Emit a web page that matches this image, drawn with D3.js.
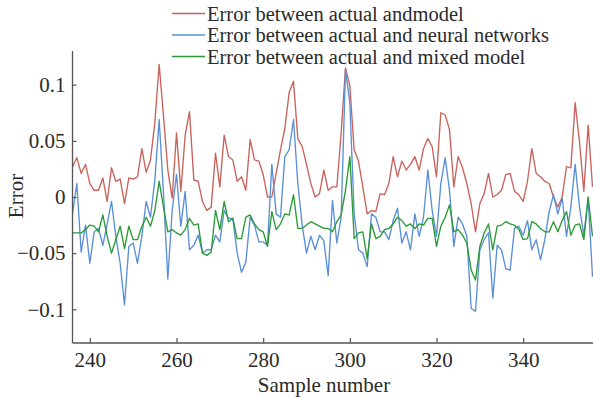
<!DOCTYPE html>
<html>
<head>
<meta charset="utf-8">
<script src="https://cdn.jsdelivr.net/npm/d3@7"></script>
<style>
  html, body { margin: 0; padding: 0; background: #fff; }
  svg { display: block; }
  text { font-family: "Liberation Serif", "Times New Roman", serif; fill: #2a2a2a; }
</style>
</head>
<body>
<svg id="chart" width="593" height="398"></svg>
<script>
// ---- Data ----
const startSample = 236;
const xTicks = [240, 260, 280, 300, 320, 340];
const yTicks = [-0.1, -0.05, 0, 0.05, 0.1];
const yTickLabels = ["\u22120.1", "\u22120.05", "0", "0.05", "0.1"];
const seriesNames = [
  "Error between actual andmodel",
  "Error between actual and neural networks",
  "Error between actual and mixed model"
];
const seriesColors = ["#c9625c", "#5a8fd8", "#2a9a36"];

// samples 236..356
const errModel = [
  0.027, 0.035, 0.021, 0.029, 0.012, 0.006, 0.006, 0.017, -0.004, 0.026,
  0.014, 0.016, -0.006, 0.017, 0.016, 0.018, 0.043, 0.022, 0.033, 0.066,
  0.118, 0.072, 0.024, -0.001, 0.057, 0.005, 0.055, 0.076, 0.015, 0.014,
  -0.004, -0.012, -0.009, 0.039, 0.009, 0.055, 0.036, 0.033, 0.014, 0.018,
  0.006, 0.051, 0.033, 0.032, 0.020, 0.000, 0.000, 0.021, 0.042, 0.061,
  0.093, 0.103, 0.052, 0.045, 0.029, 0.012, 0.000, 0.003, 0.024, 0.006,
  0.009, 0.009, 0.057, 0.115, 0.099, 0.042, 0.032, 0.009, -0.015, -0.012,
  -0.013, 0.003, 0.002, 0.012, 0.036, 0.018, 0.032, 0.024, 0.029, 0.036,
  0.024, 0.043, 0.052, 0.045, 0.018, 0.075, 0.073, 0.060, 0.009, 0.036,
  0.026, 0.012, -0.006, -0.031, -0.006, 0.003, 0.021, 0.000, 0.002, 0.006,
  0.020, 0.021, 0.005, 0.002, -0.004, 0.014, 0.043, 0.021, 0.018, 0.014,
  0.012, 0.000, -0.009, 0.000, 0.027, 0.026, 0.084, 0.049, 0.005, 0.064,
  0.009
];
const errNeural = [
  -0.015, 0.012, -0.049, -0.025, -0.059, -0.031, -0.028, -0.043, -0.024, -0.004,
  -0.035, -0.059, -0.096, -0.044, -0.041, -0.059, -0.035, -0.004, -0.018, 0.015,
  0.069, 0.003, -0.073, -0.012, 0.020, -0.026, 0.005, -0.047, -0.043, -0.034,
  -0.050, -0.047, -0.047, -0.034, -0.040, -0.012, -0.019, -0.019, -0.050, -0.067,
  -0.058, -0.018, -0.025, -0.040, -0.040, -0.043, 0.029, -0.015, -0.018, 0.036,
  0.042, 0.069, 0.012, -0.025, -0.050, -0.035, -0.047, -0.034, -0.039, -0.070,
  -0.003, -0.041, -0.018, 0.113, 0.084, -0.015, -0.047, -0.050, -0.062, -0.015,
  -0.018, -0.031, -0.031, -0.038, -0.021, -0.010, -0.041, -0.031, -0.047, -0.015,
  -0.035, -0.018, 0.024, -0.012, -0.035, 0.012, 0.035, 0.006, -0.044, -0.018,
  -0.024, -0.035, -0.099, -0.102, -0.047, -0.038, -0.032, -0.090, -0.043, -0.047,
  -0.064, -0.065, -0.028, -0.026, -0.034, -0.021, -0.047, -0.038, -0.056, -0.038,
  -0.013, 0.002, -0.015, -0.001, -0.035, -0.009, 0.029, -0.009, -0.034, -0.001,
  -0.071
];
const errMixed = [
  -0.032, -0.032, -0.032, -0.029, -0.025, -0.026, -0.031, -0.016, -0.035, -0.050,
  -0.038, -0.026, -0.046, -0.026, -0.038, -0.038, -0.026, -0.018, -0.026, -0.012,
  0.014, -0.009, -0.031, -0.029, -0.032, -0.034, -0.029, -0.019, -0.025, -0.024,
  -0.050, -0.052, -0.049, -0.012, -0.029, -0.004, -0.022, -0.019, -0.037, -0.037,
  -0.018, -0.016, -0.024, -0.029, -0.031, -0.044, -0.013, -0.029, -0.024, -0.015,
  -0.016, 0.002, -0.028, -0.028, -0.025, -0.022, -0.024, -0.026, -0.028, -0.028,
  -0.031, -0.022, -0.016, 0.006, 0.036, -0.037, -0.032, -0.031, -0.055, -0.024,
  -0.037, -0.035, -0.029, -0.028, -0.024, -0.018, -0.021, -0.026, -0.024, -0.028,
  -0.024, -0.025, -0.019, -0.019, -0.044, -0.026, -0.018, -0.007, -0.031, -0.029,
  -0.034, -0.041, -0.065, -0.074, -0.044, -0.032, -0.024, -0.047, -0.026, -0.025,
  -0.022, -0.024, -0.025, -0.029, -0.038, -0.037, -0.022, -0.024, -0.028, -0.031,
  -0.031, -0.022, -0.031, -0.021, -0.013, -0.034, -0.025, -0.024, -0.038, 0.000,
  -0.035
];

// ---- Layout ----
const svg = d3.select("#chart");
const mLeft = 72.5, mRight = 592.5, mTop = 51, mBottom = 343;
const fontSize = 21;
const legendFont = 20.5;

const x = d3.scaleLinear().domain([236, 356]).range([mLeft, mRight]);
const y = d3.scaleLinear().domain([-0.13, 0.13]).range([mBottom, mTop]);

const axisColor = "#555";

// lines
const allSeries = [errModel, errNeural, errMixed];
const line = d3.line()
  .x((d, i) => x(startSample + i))
  .y(d => y(d));

const plot = svg.append("g");
[0, 1, 2].forEach(k => {
  plot.append("path")
    .datum(allSeries[k])
    .attr("fill", "none")
    .attr("stroke", seriesColors[k])
    .attr("stroke-width", 1.35)
    .attr("stroke-linejoin", "round")
    .attr("d", line);
});

// axes
const xAxis = d3.axisBottom(x).tickValues(xTicks).tickSizeInner(-5).tickSizeOuter(0).tickPadding(9);
const gx = svg.append("g").attr("transform", `translate(0,${mBottom})`).call(xAxis);
gx.select(".domain").attr("stroke", axisColor).attr("stroke-width", 1.3).attr("d", `M${mLeft},0H593`);
gx.selectAll(".tick line").attr("stroke", axisColor).attr("stroke-width", 1.2);
gx.selectAll(".tick text").attr("font-size", fontSize).attr("fill", "#2a2a2a");

const yAxis = d3.axisLeft(y).tickValues(yTicks).tickFormat((d, i) => yTickLabels[i])
  .tickSizeInner(-4).tickSizeOuter(0).tickPadding(7);
const gy = svg.append("g").attr("transform", `translate(${mLeft},0)`).call(yAxis);
gy.select(".domain").attr("stroke", axisColor).attr("stroke-width", 1.3).attr("d", `M0,${mTop}V${mBottom}`);
gy.selectAll(".tick line").attr("stroke", axisColor).attr("stroke-width", 1.2);
gy.selectAll(".tick text").attr("font-size", fontSize).attr("fill", "#2a2a2a");

// axis titles
svg.append("text")
  .attr("x", 324).attr("y", 392)
  .attr("text-anchor", "middle")
  .attr("font-size", fontSize)
  .text("Sample number");

svg.append("text")
  .attr("transform", "translate(23,196) rotate(-90)")
  .attr("text-anchor", "middle")
  .attr("font-size", fontSize)
  .text("Error");

// legend
const legend = svg.append("g");
seriesNames.forEach((name, k) => {
  const cy = 13.5 + k * 21.5;
  legend.append("line")
    .attr("x1", 172).attr("x2", 205)
    .attr("y1", cy).attr("y2", cy)
    .attr("stroke", seriesColors[k]).attr("stroke-width", 1.3);
  legend.append("text")
    .attr("x", 207).attr("y", cy + 7)
    .attr("font-size", legendFont)
    .text(name);
});
</script>
</body>
</html>
